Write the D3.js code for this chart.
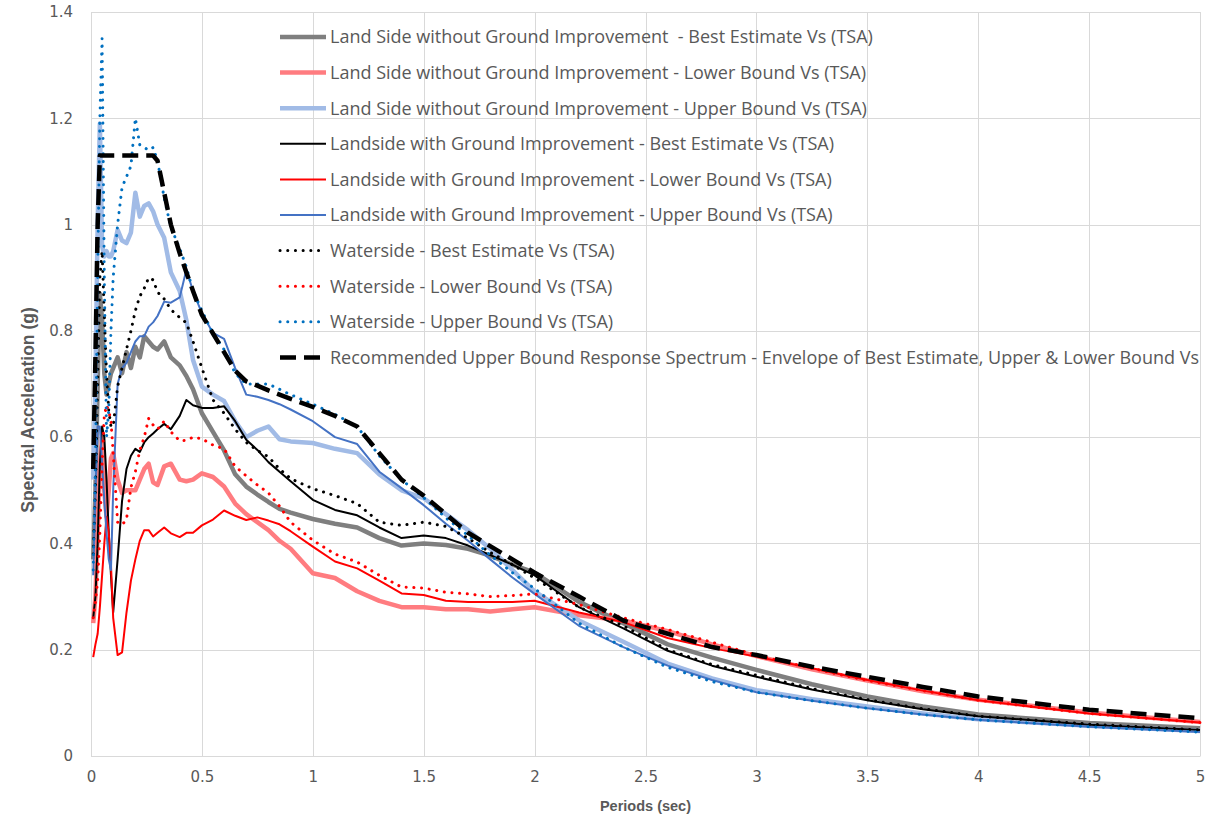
<!DOCTYPE html>
<html>
<head>
<meta charset="utf-8">
<script src="https://cdn.jsdelivr.net/npm/d3@7"></script>
<style>
  body { margin: 0; background: #fff; }
  text { font-family: "Open Sans", sans-serif; }
</style>
</head>
<body>
<svg id="chart" width="1227" height="820"></svg>
<script>
// periods (sec) shared by all spectra
var periods = [0.01, 0.02, 0.03, 0.04, 0.05, 0.06, 0.07, 0.08, 0.09, 0.1,
    0.12, 0.14, 0.16, 0.18, 0.2, 0.22, 0.24, 0.26, 0.28, 0.3,
    0.33, 0.36, 0.4, 0.43, 0.46, 0.5, 0.55, 0.6, 0.65, 0.7,
    0.75, 0.8, 0.85, 0.9, 1.0, 1.1, 1.2, 1.3, 1.4, 1.5,
    1.6, 1.7, 1.8, 1.9, 2.0, 2.2, 2.4, 2.6, 2.8, 3.0,
    3.25, 3.5, 3.75, 4.0, 4.5, 5.0];

var lsBest = [0.37, 0.5, 0.7, 0.87, 0.82, 0.72, 0.68, 0.7, 0.72, 0.73,
    0.75, 0.72, 0.76, 0.73, 0.77, 0.75, 0.79, 0.78, 0.77, 0.765,
    0.78, 0.75, 0.735, 0.715, 0.69, 0.645, 0.61, 0.575, 0.53, 0.507,
    0.492, 0.478, 0.465, 0.458, 0.446, 0.437, 0.43, 0.41, 0.396, 0.4,
    0.397, 0.39, 0.377, 0.36, 0.345, 0.29, 0.25, 0.21, 0.185, 0.162,
    0.135, 0.112, 0.093, 0.078, 0.062, 0.052];

var lsLower = [0.25, 0.3, 0.42, 0.55, 0.6, 0.5, 0.45, 0.5, 0.56, 0.57,
    0.52, 0.495, 0.5, 0.5, 0.5, 0.52, 0.54, 0.55, 0.515, 0.51,
    0.545, 0.55, 0.52, 0.517, 0.52, 0.532, 0.525, 0.507, 0.475, 0.455,
    0.44, 0.425, 0.405, 0.39, 0.344, 0.335, 0.31, 0.292, 0.28, 0.28,
    0.276, 0.276, 0.272, 0.276, 0.28, 0.265, 0.255, 0.235, 0.21, 0.188,
    0.163, 0.142, 0.122, 0.106, 0.082, 0.064];

var lsUpper = [0.52, 0.7, 1.0, 1.19, 0.96, 0.94, 0.95, 0.94, 0.94, 0.95,
    0.99, 0.97, 0.965, 0.985, 1.06, 1.015, 1.035, 1.04, 1.025, 1.0,
    0.975, 0.91, 0.875, 0.82, 0.745, 0.695, 0.68, 0.668, 0.63, 0.6,
    0.612, 0.62, 0.596, 0.592, 0.589, 0.578, 0.57, 0.53, 0.5, 0.485,
    0.455, 0.425, 0.39, 0.35, 0.31, 0.255, 0.215, 0.174, 0.146, 0.124,
    0.107, 0.093, 0.08, 0.069, 0.057, 0.047];

var giBest = [0.26, 0.3, 0.4, 0.55, 0.62, 0.6, 0.52, 0.42, 0.34, 0.27,
    0.37, 0.48, 0.54, 0.565, 0.578, 0.572, 0.59, 0.6, 0.607, 0.615,
    0.625, 0.615, 0.64, 0.67, 0.66, 0.655, 0.655, 0.658, 0.63, 0.595,
    0.576, 0.553, 0.535, 0.517, 0.482, 0.463, 0.453, 0.43, 0.41, 0.415,
    0.41, 0.396, 0.378, 0.36, 0.34, 0.28, 0.24, 0.198, 0.17, 0.149,
    0.125, 0.105, 0.088, 0.075, 0.059, 0.049];

var giLower = [0.186, 0.21, 0.23, 0.28, 0.34, 0.4, 0.45, 0.42, 0.36, 0.26,
    0.19, 0.195, 0.27, 0.33, 0.37, 0.405, 0.425, 0.425, 0.413, 0.42,
    0.43, 0.419, 0.412, 0.42, 0.42, 0.434, 0.445, 0.462, 0.452, 0.444,
    0.449, 0.443, 0.436, 0.423, 0.394, 0.366, 0.353, 0.33, 0.306, 0.303,
    0.292, 0.29, 0.29, 0.29, 0.292, 0.27, 0.252, 0.222, 0.203, 0.187,
    0.165, 0.143, 0.123, 0.105, 0.08, 0.063];

var giUpper = [0.34, 0.5, 0.62, 0.62, 0.55, 0.48, 0.42, 0.37, 0.35, 0.5,
    0.7, 0.73, 0.74, 0.76, 0.78, 0.79, 0.79, 0.808, 0.816, 0.828,
    0.855, 0.853, 0.863, 0.915, 0.875, 0.833, 0.796, 0.785, 0.73, 0.68,
    0.676, 0.67, 0.662, 0.652, 0.63, 0.6, 0.587, 0.535, 0.504, 0.472,
    0.437, 0.405, 0.37, 0.336, 0.305, 0.245, 0.205, 0.17, 0.143, 0.12,
    0.104, 0.09, 0.078, 0.068, 0.055, 0.045];

var wsBest = [0.38, 0.5, 0.7, 0.9, 0.95, 0.83, 0.72, 0.65, 0.62, 0.62,
    0.695, 0.73, 0.765, 0.8, 0.838, 0.865, 0.88, 0.9, 0.896, 0.873,
    0.86, 0.84, 0.825, 0.815, 0.78, 0.73, 0.67, 0.645, 0.615, 0.59,
    0.575, 0.563, 0.54, 0.522, 0.503, 0.49, 0.475, 0.44, 0.434, 0.44,
    0.432, 0.41, 0.383, 0.36, 0.335, 0.28, 0.245, 0.2, 0.172, 0.152,
    0.127, 0.106, 0.089, 0.075, 0.06, 0.049];

var wsLower = [0.26, 0.29, 0.33, 0.42, 0.55, 0.64, 0.66, 0.65, 0.63, 0.57,
    0.44, 0.435, 0.445, 0.505, 0.535, 0.575, 0.6, 0.635, 0.623, 0.615,
    0.63, 0.61, 0.593, 0.594, 0.6, 0.597, 0.585, 0.578, 0.545, 0.527,
    0.51, 0.495, 0.47, 0.44, 0.406, 0.38, 0.365, 0.34, 0.318, 0.316,
    0.308, 0.305, 0.3, 0.302, 0.305, 0.285, 0.26, 0.238, 0.214, 0.19,
    0.165, 0.142, 0.123, 0.105, 0.08, 0.063];

var wsUpper = [0.35, 0.55, 0.9, 1.2, 1.35, 0.9, 0.6, 0.65, 0.8, 0.9,
    1.0, 1.07, 1.09, 1.11, 1.2, 1.15, 1.145, 1.14, 1.145, 1.12,
    1.05, 0.995, 0.955, 0.92, 0.875, 0.838, 0.795, 0.765, 0.72, 0.7,
    0.7, 0.7, 0.69, 0.68, 0.662, 0.643, 0.62, 0.565, 0.52, 0.486,
    0.448, 0.415, 0.378, 0.345, 0.315, 0.25, 0.205, 0.167, 0.14, 0.12,
    0.104, 0.09, 0.078, 0.068, 0.055, 0.045];

var envelope = [0.54, 0.75, 1.0, 1.13, 1.13, 1.13, 1.13, 1.13, 1.13, 1.13,
    1.13, 1.13, 1.13, 1.13, 1.13, 1.13, 1.13, 1.13, 1.13, 1.12,
    1.06, 1.0, 0.946, 0.91, 0.875, 0.83, 0.795, 0.76, 0.725, 0.705,
    0.697, 0.688, 0.68, 0.672, 0.657, 0.64, 0.62, 0.57, 0.52, 0.49,
    0.455, 0.42, 0.395, 0.37, 0.345, 0.3, 0.255, 0.23, 0.205, 0.19,
    0.168, 0.149, 0.13, 0.112, 0.087, 0.071];

var seriesNames = [
    "Land Side without Ground Improvement  - Best Estimate Vs (TSA)",
    "Land Side without Ground Improvement - Lower Bound Vs (TSA)",
    "Land Side without Ground Improvement - Upper Bound Vs (TSA)",
    "Landside with Ground Improvement - Best Estimate Vs (TSA)",
    "Landside with Ground Improvement - Lower Bound Vs (TSA)",
    "Landside with Ground Improvement - Upper Bound Vs (TSA)",
    "Waterside - Best Estimate Vs (TSA)",
    "Waterside - Lower Bound Vs (TSA)",
    "Waterside - Upper Bound Vs (TSA)",
    "Recommended Upper Bound Response Spectrum - Envelope of Best Estimate, Upper & Lower Bound Vs"
];

var xTicks = [0, 0.5, 1, 1.5, 2, 2.5, 3, 3.5, 4, 4.5, 5];
var yTicks = [0, 0.2, 0.4, 0.6, 0.8, 1, 1.2, 1.4];

// line looks, same order as the names
var styles = [
    {color: "#7F7F7F", width: 4.5, dash: null},
    {color: "#FF7C80", width: 4.5, dash: null},
    {color: "#A1BBE6", width: 4.5, dash: null},
    {color: "#000000", width: 2, dash: null},
    {color: "#FF0000", width: 2, dash: null},
    {color: "#4472C4", width: 2, dash: null},
    {color: "#000000", width: 3, dash: "0.1,7.6"},
    {color: "#FF0000", width: 3, dash: "0.1,7.6"},
    {color: "#0070C0", width: 3, dash: "0.1,7.6"},
    {color: "#000000", width: 4.5, dash: "16,8"}
];

var allValues = [lsBest, lsLower, lsUpper, giBest, giLower, giUpper, wsBest, wsLower, wsUpper, envelope];

var series = allValues.map(function(vals, i) {
    return {
        name: seriesNames[i],
        style: styles[i],
        points: periods.map(function(p, j) { return [p, vals[j]]; })
    };
});

var svg = d3.select("#chart");
var plotLeft = 91, plotRight = 1200, plotTop = 12, plotBottom = 756;

var x = d3.scaleLinear().domain([0, 5]).range([plotLeft, plotRight]);
var y = d3.scaleLinear().domain([0, 1.4]).range([plotBottom, plotTop]);

// grid
svg.append("g").selectAll("line")
    .data(yTicks).enter().append("line")
    .attr("x1", plotLeft).attr("x2", plotRight)
    .attr("y1", function(d) { return Math.round(y(d)) + 0.5; })
    .attr("y2", function(d) { return Math.round(y(d)) + 0.5; })
    .attr("stroke", "#D9D9D9").attr("stroke-width", 1);

svg.append("g").selectAll("line")
    .data(xTicks).enter().append("line")
    .attr("y1", plotTop).attr("y2", plotBottom)
    .attr("x1", function(d) { return Math.round(x(d)) + 0.5; })
    .attr("x2", function(d) { return Math.round(x(d)) + 0.5; })
    .attr("stroke", "#D9D9D9").attr("stroke-width", 1);

// tick labels
var xAxis = d3.axisBottom(x).tickValues(xTicks).tickSize(0).tickPadding(15)
    .tickFormat(function(d) { return String(d); });
var gx = svg.append("g")
    .attr("transform", "translate(0," + plotBottom + ")")
    .call(xAxis);

var yAxis = d3.axisLeft(y).tickValues(yTicks).tickSize(0).tickPadding(18)
    .tickFormat(function(d) { return String(d); });
var gy = svg.append("g")
    .attr("transform", "translate(" + plotLeft + ",0)")
    .call(yAxis);

[gx, gy].forEach(function(g) {
    g.select(".domain").attr("stroke", "#D9D9D9");
    g.selectAll("text")
        .style("font-family", "'DejaVu Sans', sans-serif")
        .style("font-size", "15px")
        .attr("fill", "#595959");
});

// axis titles
svg.append("text")
    .attr("x", x(2.5)).attr("y", 811)
    .attr("text-anchor", "middle")
    .style("font-family", "'Liberation Sans Narrow', 'Liberation Sans', sans-serif")
    .style("font-size", "14.5px").style("font-weight", "bold")
    .attr("fill", "#595959")
    .text("Periods (sec)");

svg.append("text")
    .attr("transform", "translate(34,410) rotate(-90)")
    .attr("text-anchor", "middle")
    .style("font-family", "'Liberation Sans Narrow', 'Liberation Sans', sans-serif")
    .style("font-size", "17.5px").style("font-weight", "bold")
    .attr("fill", "#595959")
    .text("Spectral Acceleration (g)");

// spectra, straight segments like the spreadsheet
var line = d3.line()
    .x(function(d) { return x(d[0]); })
    .y(function(d) { return y(d[1]); })
    .curve(d3.curveLinear);

function capFor(d) {
    return d.style.dash && d.style.dash.indexOf("0.1") === 0 ? "round" : "butt";
}

svg.append("g").selectAll("path")
    .data(series).enter().append("path")
    .attr("d", function(d) { return line(d.points); })
    .attr("fill", "none")
    .attr("stroke", function(d) { return d.style.color; })
    .attr("stroke-width", function(d) { return d.style.width; })
    .attr("stroke-dasharray", function(d) { return d.style.dash; })
    .attr("stroke-linecap", capFor)
    .attr("stroke-linejoin", "round");

// legend
var legend = svg.append("g").attr("transform", "translate(280,37)");
var rowH = 35.6;

var rows = legend.selectAll("g")
    .data(series).enter().append("g")
    .attr("transform", function(d, i) { return "translate(0," + (i * rowH) + ")"; });

rows.append("line")
    .attr("x1", 0).attr("x2", 46)
    .attr("y1", 0).attr("y2", 0)
    .attr("stroke", function(d) { return d.style.color; })
    .attr("stroke-width", function(d) { return d.style.width; })
    .attr("stroke-dasharray", function(d) { return d.style.dash; })
    .attr("stroke-linecap", capFor);

rows.append("text")
    .attr("x", 50).attr("y", 0)
    .attr("dy", "0.35em")
    .style("font-size", "18px")
    .style("white-space", "pre")
    .attr("fill", "#595959")
    .text(function(d) { return d.name; });
</script>
</body>
</html>
